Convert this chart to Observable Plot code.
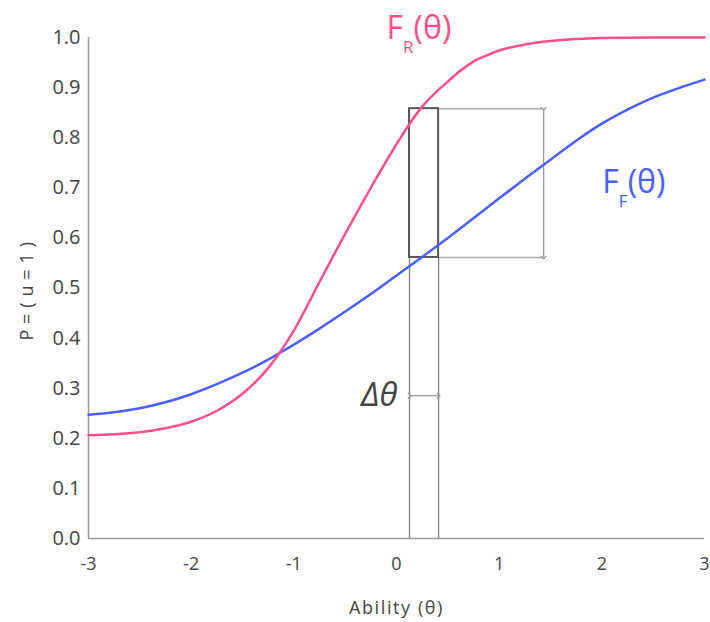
<!DOCTYPE html>
<html>
<head>
<meta charset="utf-8">
<script src="https://cdn.jsdelivr.net/npm/d3@7"></script>
<script src="https://cdn.jsdelivr.net/npm/@observablehq/plot@0.6"></script>
<style>
  html, body { margin: 0; padding: 0; background: #fff; }
  #chart { width: 710px; height: 622px; }
</style>
</head>
<body>
<div id="chart"></div>
<script>
// ---- data ----
const thetaF = [-3, -2.75, -2.5, -2.25, -2, -1.75, -1.5, -1.25, -1, -0.75, -0.5, -0.25, 0, 0.25, 0.5, 0.75, 1, 1.25, 1.5, 1.75, 2, 2.25, 2.5, 2.75, 3];
const probF  = [0.247, 0.252, 0.260, 0.272, 0.288, 0.308, 0.331, 0.357, 0.387, 0.419, 0.453, 0.488, 0.525, 0.562, 0.600, 0.639, 0.679, 0.718, 0.756, 0.794, 0.828, 0.856, 0.880, 0.899, 0.916];

const thetaR = [-3, -2.75, -2.5, -2.25, -2, -1.75, -1.5, -1.25, -1, -0.75, -0.5, -0.25, 0, 0.25, 0.375, 0.5, 0.625, 0.75, 0.875, 1, 1.25, 1.5, 1.75, 2, 2.5, 3];
const probR  = [0.206, 0.208, 0.212, 0.220, 0.233, 0.255, 0.289, 0.340, 0.415, 0.512, 0.608, 0.700, 0.787, 0.862, 0.889, 0.912, 0.934, 0.952, 0.964, 0.974, 0.986, 0.993, 0.997, 0.999, 1.000, 1.000];

const xTicks = [-3, -2, -1, 0, 1, 2, 3];
const yTicks = [0, 0.1, 0.2, 0.3, 0.4, 0.5, 0.6, 0.7, 0.8, 0.9, 1.0];

// annotation values (data units)
const boxTheta = [0.127, 0.41];     // Δθ interval
const boxP = [0.561, 0.858];        // F_F / F_R values spanned by the box
const spanTheta = [1.433];          // x of the vertical double arrow
const deltaArrowP = [0.285];        // y of the Δθ double arrow

const curveLabels = ["F_R(θ)", "F_F(θ)"];
const labelTheta = [-0.097, 2.005];
const labelP = [1.018, 0.711];

const RED = "#ff4f8b";
const BLUE = "#4a5fff";
const INK = "#444";

const seriesF = thetaF.map((t, i) => ({t, p: probF[i]}));
const seriesR = thetaR.map((t, i) => ({t, p: probR[i]}));
const labels = curveLabels.map((s, i) => ({s, t: labelTheta[i], p: labelP[i], c: i === 0 ? RED : BLUE}));
const box = [{x1: boxTheta[0], x2: boxTheta[1], y1: boxP[0], y2: boxP[1]}];

const chart = Plot.plot({
  width: 710,
  height: 622,
  marginLeft: 88,
  marginRight: 6,
  marginTop: 37,
  marginBottom: 84,
  style: {fontFamily: "'Open Sans', 'Noto Sans', sans-serif", color: INK, background: "#fff", overflow: "visible"},
  x: {domain: [-3, 3]},
  y: {domain: [0, 1]},
  marks: [
    Plot.axisX({ticks: xTicks, tickSize: 0, tickPadding: 19, tickFormat: d => String(d), fontSize: 18, label: null, fill: INK}),
    Plot.axisY({ticks: yTicks, tickSize: 0, tickPadding: 8, tickFormat: d => d.toFixed(1), fontSize: 20, label: null, fill: INK}),
    Plot.ruleY([0], {stroke: "#9a9a9a", strokeWidth: 1.5}),
    Plot.ruleX([-3], {stroke: "#9a9a9a", strokeWidth: 1.5}),
    // guide lines
    Plot.ruleX(boxTheta, {y1: 0, y2: boxP[0], stroke: "#8c8c8c", strokeWidth: 1.5}),
    Plot.ruleY(boxP, {x1: boxTheta[1], x2: spanTheta[0], stroke: "#aaaaaa", strokeWidth: 1.5}),
    Plot.link(spanTheta, {x1: d => d, x2: d => d, y1: boxP[1], y2: boxP[0], stroke: "#999", strokeWidth: 1.3, markerStart: "arrow", markerEnd: "arrow"}),
    Plot.link(deltaArrowP, {x1: boxTheta[0], x2: boxTheta[1], y1: d => d, y2: d => d, stroke: "#999", strokeWidth: 1.3, markerStart: "arrow", markerEnd: "arrow"}),
    Plot.rect(box, {x1: "x1", x2: "x2", y1: "y1", y2: "y2", fill: "none", stroke: "#555", strokeWidth: 2}),
    // curves
    Plot.line(seriesF, {x: "t", y: "p", stroke: BLUE, strokeWidth: 2.5, curve: "monotone-x"}),
    Plot.line(seriesR, {x: "t", y: "p", stroke: RED, strokeWidth: 2.5, curve: "monotone-x"}),
    // texts
    Plot.text(deltaArrowP, {x: boxTheta[0], y: d => d, text: () => "Δθ", textAnchor: "end", dx: -12, lineAnchor: "middle", fontSize: 33, fontStyle: "italic", fill: INK}),
    Plot.text(labels, {x: "t", y: "p", text: "s", fill: "c", textAnchor: "start", lineAnchor: "middle", fontSize: 32}),
    Plot.text(["P = ( u = 1 )"], {frameAnchor: "left", dx: -61, dy: 3, rotate: -90, textAnchor: "middle", lineAnchor: "middle", fontSize: 18, fill: INK}),
    Plot.text(["Ability (θ)"], {frameAnchor: "bottom", dy: 70, textAnchor: "middle", lineAnchor: "middle", fontSize: 18, fill: INK})
  ]
});

d3.select(chart).selectAll("text").each(function () {
  const txt = this.textContent;
  // turn "F_X(θ)" labels into F with a subscript
  const m = /^F_(\w)\(θ\)$/.exec(txt);
  if (m) {
    const el = d3.select(this);
    el.text(null);
    el.append("tspan").text("F");
    el.append("tspan").attr("font-size", 17).attr("dy", 14).text(m[1]);
    el.append("tspan").attr("dy", -14).text("(θ)");
  }
  if (txt === "Ability (θ)") this.style.letterSpacing = "1.6px";
  if (txt === "P = ( u = 1 )") this.style.letterSpacing = "0.6px";
});

document.getElementById("chart").append(chart);
</script>
</body>
</html>
